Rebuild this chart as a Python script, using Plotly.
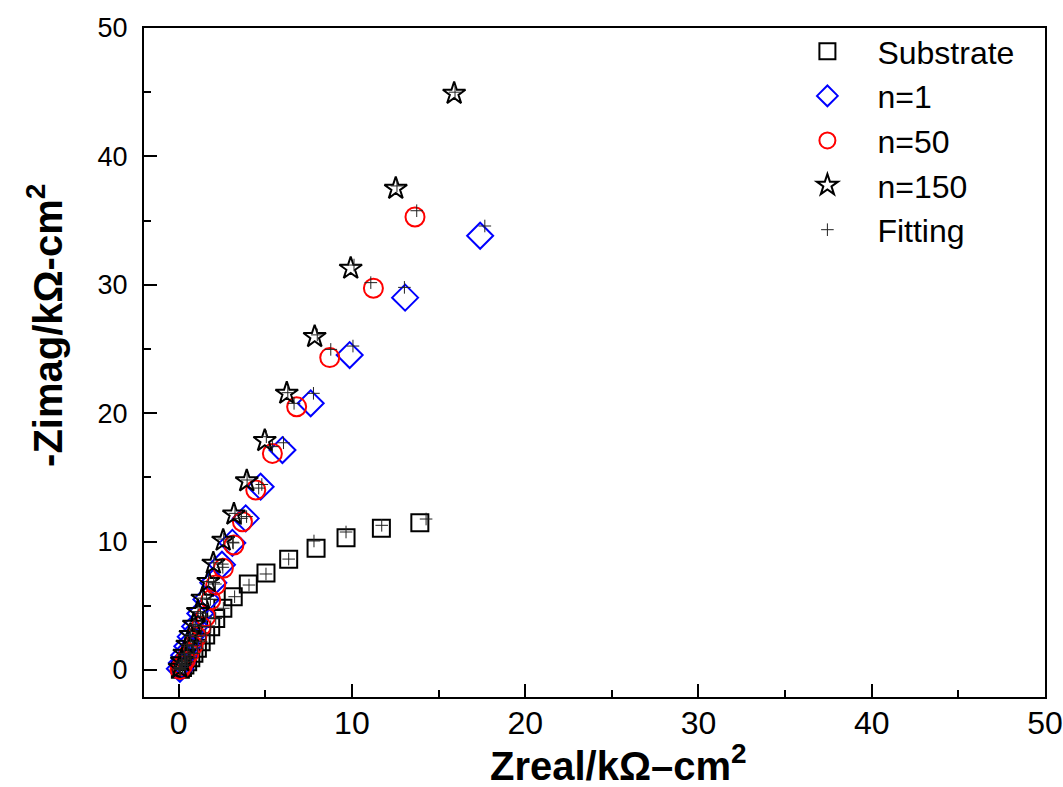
import plotly.graph_objects as go

# ---- data (kOhm cm^2) ----
sub_x = [13.92, 11.70, 9.66, 7.93, 6.35, 5.04, 4.02, 3.15, 2.55, 2.14, 1.85, 1.56, 1.30, 1.08, 0.88, 0.70, 0.52, 0.36, 0.22, 0.10]
sub_y = [11.47, 11.04, 10.30, 9.48, 8.62, 7.55, 6.70, 5.71, 4.81, 4.02, 3.37, 2.73, 2.20, 1.70, 1.30, 0.95, 0.65, 0.40, 0.20, 0.06]
sub_fit_x = [14.28, 11.72, 9.66, 7.81, 6.35, 5.04, 4.06, 3.23, 2.58, 2.14, 1.85, 1.56, 1.30, 1.08, 0.88, 0.70, 0.52, 0.36, 0.22, 0.10]
sub_fit_y = [11.76, 11.27, 10.75, 10.05, 8.64, 7.48, 6.62, 5.71, 4.81, 4.02, 3.37, 2.73, 2.20, 1.70, 1.30, 0.95, 0.65, 0.40, 0.20, 0.06]

n1_x = [17.40, 13.07, 9.87, 7.62, 5.99, 4.73, 3.87, 3.10, 2.50, 2.00, 1.60, 1.25, 0.95, 0.70, 0.50, 0.32, 0.18, 0.07]
n1_y = [33.82, 29.00, 24.53, 20.77, 17.13, 14.28, 11.81, 9.90, 8.20, 6.80, 5.50, 4.40, 3.40, 2.60, 1.85, 1.15, 0.55, 0.10]
n1_fit_x = [17.67, 13.03, 10.06, 7.78, 6.05, 4.80, 3.92, 3.12, 2.52, 2.02, 1.61, 1.26, 0.96, 0.70, 0.50, 0.32, 0.18, 0.07]
n1_fit_y = [34.58, 29.80, 25.23, 21.55, 17.70, 14.45, 11.95, 9.95, 8.25, 6.82, 5.52, 4.42, 3.42, 2.60, 1.85, 1.15, 0.55, 0.10]

n50_x = [13.64, 11.24, 8.72, 6.81, 5.41, 4.45, 3.68, 3.19, 2.58, 2.14, 1.85, 1.56, 1.30, 1.05, 0.82, 0.60, 0.40, 0.22, 0.08]
n50_y = [35.28, 29.73, 24.33, 20.50, 16.87, 14.02, 11.55, 9.74, 7.92, 6.62, 5.45, 4.15, 3.40, 2.60, 1.90, 1.30, 0.80, 0.35, 0.05]
n50_fit_x = [13.74, 11.09, 8.78, 6.66, 5.41, 4.62, 3.62, 3.15, 2.55, 2.12, 1.83, 1.55, 1.30, 1.05, 0.82, 0.60, 0.40, 0.22, 0.08]
n50_fit_y = [35.77, 30.17, 24.97, 20.77, 17.40, 14.17, 11.81, 9.90, 8.00, 6.70, 5.50, 4.20, 3.40, 2.60, 1.90, 1.30, 0.80, 0.35, 0.05]

n150_x = [15.90, 12.53, 9.93, 7.85, 6.24, 4.97, 3.93, 3.19, 2.57, 2.00, 1.71, 1.37, 1.11, 0.88, 0.68, 0.50, 0.33, 0.18, 0.06]
n150_y = [44.90, 37.50, 31.28, 25.96, 21.55, 17.86, 14.72, 12.13, 10.10, 8.31, 6.88, 5.58, 4.54, 3.55, 2.75, 2.00, 1.30, 0.70, 0.20]
n150_fit_x = [15.95, 12.60, 10.12, 8.00, 6.30, 5.06, 3.95, 3.25, 2.60, 2.03, 1.72, 1.38, 1.12, 0.88, 0.68, 0.50, 0.33, 0.18, 0.06]
n150_fit_y = [45.00, 37.70, 31.54, 26.10, 21.60, 18.17, 14.80, 12.20, 10.20, 8.35, 6.90, 5.60, 4.55, 3.55, 2.75, 2.00, 1.30, 0.70, 0.20]

x_ticks = [0, 10, 20, 30, 40, 50]
y_ticks = [0, 10, 20, 30, 40, 50]

FONT = "Liberation Sans, Arial, sans-serif"

fig = go.Figure()
fig.add_trace(go.Scatter(x=sub_x, y=sub_y, mode="markers", name="Substrate",
                         marker=dict(symbol="square-open", size=17, color="black", line=dict(width=2))))
fig.add_trace(go.Scatter(x=n1_x, y=n1_y, mode="markers", name="n=1",
                         marker=dict(symbol="diamond-open", size=20, color="#0000FF", line=dict(width=2))))
fig.add_trace(go.Scatter(x=n50_x, y=n50_y, mode="markers", name="n=50",
                         marker=dict(symbol="circle-open", size=19, color="#FF0000", line=dict(width=2))))
fig.add_trace(go.Scatter(x=n150_x, y=n150_y, mode="markers", name="n=150",
                         marker=dict(symbol="star-open", size=17, color="black", line=dict(width=2))))
fit_x = sub_fit_x + n1_fit_x + n50_fit_x + n150_fit_x
fit_y = sub_fit_y + n1_fit_y + n50_fit_y + n150_fit_y
fig.add_trace(go.Scatter(x=fit_x, y=fit_y, mode="markers", name="Fitting",
                         marker=dict(symbol="cross-thin-open", size=9, color="#222222", line=dict(width=1, color="#222222"))))

axis_common = dict(showline=True, linewidth=2, linecolor="black", mirror=True,
                   ticks="inside", ticklen=13, tickwidth=2, tickcolor="black",
                   showgrid=False, zeroline=False, automargin=False,
                   minor=dict(ticks="inside", ticklen=7, tickwidth=2, tickcolor="black", dtick=5, showgrid=False))

fig.update_xaxes(range=[-2, 50], tickvals=x_ticks, ticktext=[str(v) for v in x_ticks],
                 tickfont=dict(family=FONT, size=32, color="black"), ticklabelstandoff=-3, **axis_common)
fig.update_yaxes(range=[-2.1, 50], tickvals=y_ticks, ticktext=[str(v) for v in y_ticks],
                 tickfont=dict(family=FONT, size=27, color="black"), ticklabelstandoff=9, **axis_common)

fig.add_annotation(text="<b>Zreal/kΩ–cm<sup>2</sup></b>", xref="paper", yref="paper",
                   x=0.527, y=-0.058, xanchor="center", yanchor="top", showarrow=False,
                   font=dict(family=FONT, size=40, color="black"))
fig.add_annotation(text="<b>-Zimag/kΩ-cm<sup>2</sup></b>", xref="paper", yref="paper",
                   x=-0.11, y=0.556, xanchor="center", yanchor="middle", textangle=-90, showarrow=False,
                   font=dict(family=FONT, size=40, color="black"))

fig.update_layout(width=1063, height=787, margin=dict(l=144, r=18, t=28, b=90, autoexpand=False),
                  paper_bgcolor="white", plot_bgcolor="white",
                  legend=dict(x=0.703, y=1.006, xanchor="left", yanchor="top", itemwidth=90,
                              font=dict(family=FONT, size=32, color="black"),
                              bgcolor="rgba(0,0,0,0)", itemsizing="trace", tracegroupgap=0))

# remove the browser's default 8px body margin so the figure sits at the page origin
fig.write_html("out.html", config={"displayModeBar": False},
               post_script="document.body.style.margin='0';document.body.style.overflow='hidden';")
